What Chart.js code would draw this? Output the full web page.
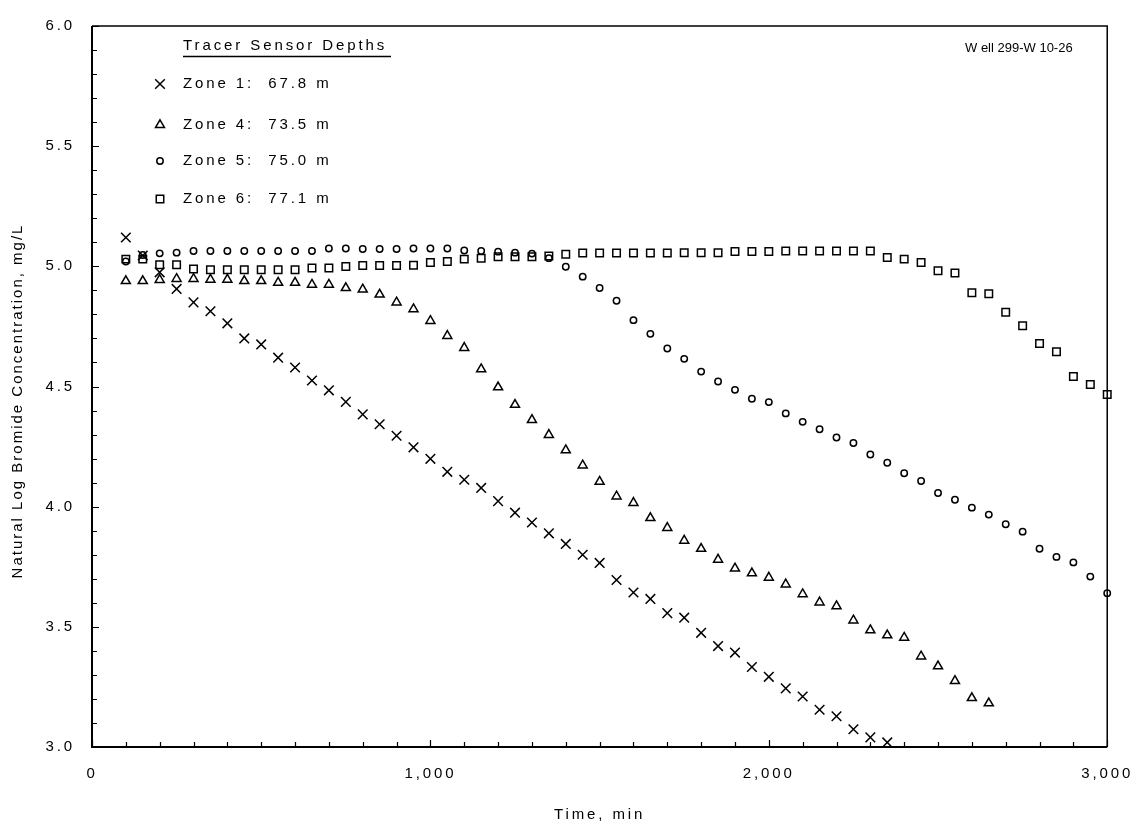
<!DOCTYPE html>
<html>
<head>
<meta charset="utf-8">
<title>Natural Log Bromide Concentration - Well 299-W10-26</title>
<script src="https://cdn.jsdelivr.net/npm/chart.js@4.4.1/dist/chart.umd.min.js"></script>
<style>
  body { margin: 0; background: #fff; }
</style>
</head>
<body>
<canvas id="tracerChart" width="1144" height="826"></canvas>
<script>
// Sampling times (min) - every reading was taken 50 min apart
const timeMin = [
  100, 150, 200, 250, 300, 350, 400, 450, 500, 550,
  600, 650, 700, 750, 800, 850, 900, 950, 1000, 1050,
  1100, 1150, 1200, 1250, 1300, 1350, 1400, 1450, 1500, 1550,
  1600, 1650, 1700, 1750, 1800, 1850, 1900, 1950, 2000, 2050,
  2100, 2150, 2200, 2250, 2300, 2350, 2400, 2450, 2500, 2550,
  2600, 2650, 2700, 2750, 2800, 2850, 2900, 2950, 3000
];

// ln(Br) mg/L
const zone1 = [
  5.12, 5.045, 4.975, 4.906, 4.85, 4.813, 4.763, 4.70, 4.675, 4.62,
  4.579, 4.525, 4.484, 4.436, 4.384, 4.343, 4.295, 4.247, 4.199, 4.145,
  4.112, 4.078, 4.023, 3.975, 3.934, 3.889, 3.845, 3.80, 3.766, 3.695,
  3.643, 3.616, 3.557, 3.538, 3.475, 3.42, 3.393, 3.333, 3.292, 3.244,
  3.21, 3.155, 3.128, 3.074, 3.04, 3.019
];
const zone4 = [
  4.939, 4.939, 4.944, 4.948, 4.948, 4.945, 4.945, 4.939, 4.939, 4.932,
  4.932, 4.924, 4.924, 4.91, 4.904, 4.883, 4.85, 4.822, 4.773, 4.711,
  4.661, 4.572, 4.497, 4.424, 4.361, 4.299, 4.235, 4.172, 4.104, 4.043,
  4.016, 3.953, 3.912, 3.859, 3.825, 3.78, 3.743, 3.723, 3.705, 3.677,
  3.636, 3.602, 3.586, 3.527, 3.486, 3.465, 3.455, 3.377, 3.336, 3.275,
  3.204, 3.182
];
const zone5 = [
  5.02, 5.047, 5.054, 5.057, 5.064, 5.064, 5.064, 5.064, 5.064, 5.064,
  5.064, 5.064, 5.074, 5.074, 5.072, 5.072, 5.072, 5.074, 5.074, 5.074,
  5.066, 5.064, 5.061, 5.057, 5.053, 5.034, 4.998, 4.957, 4.91, 4.857,
  4.776, 4.719, 4.658, 4.615, 4.562, 4.521, 4.486, 4.449, 4.435, 4.388,
  4.353, 4.322, 4.288, 4.265, 4.217, 4.183, 4.139, 4.107, 4.057, 4.029,
  3.996, 3.967, 3.927, 3.896, 3.825, 3.791, 3.768, 3.709, 3.64
];
const zone6 = [
  5.03, 5.03, 5.007, 5.007, 4.989, 4.986, 4.986, 4.986, 4.986, 4.986,
  4.986, 4.993, 4.993, 4.999, 5.003, 5.003, 5.003, 5.005, 5.016, 5.02,
  5.03, 5.034, 5.04, 5.04, 5.04, 5.043, 5.05, 5.055, 5.055, 5.055,
  5.055, 5.055, 5.055, 5.057, 5.057, 5.057, 5.062, 5.062, 5.062, 5.064,
  5.064, 5.064, 5.064, 5.064, 5.064, 5.037, 5.03, 5.016, 4.982, 4.972,
  4.89, 4.886, 4.809, 4.753, 4.679, 4.645, 4.542, 4.508, 4.467
];

const zoneLabels = ['Zone 1:  67.8 m', 'Zone 4:  73.5 m', 'Zone 5:  75.0 m', 'Zone 6:  77.1 m'];
const zoneValues = [zone1, zone4, zone5, zone6];
const zoneMarkers = [
  { style: 'crossRot', radius: 6.8 },
  { style: 'triangle', radius: 5.2 },
  { style: 'circle', radius: 3.2 },
  { style: 'rect', radius: 5.3 }
];

const yTicks = [3.0, 3.5, 4.0, 4.5, 5.0, 5.5, 6.0];
const xTicks = [0, 1000, 2000, 3000];

const FONT = "'Liberation Sans', Arial, sans-serif";

function toPoints(values) {
  return values.map((v, i) => ({ x: timeMin[i], y: v }));
}

// inward ticks, the box and the in-plot legend
const framePlugin = {
  id: 'frame',
  beforeDraw(chart) {
    chart.ctx.letterSpacing = '2.9px';
  },
  afterDraw(chart) {
    const { ctx, chartArea: a, scales: { x, y } } = chart;
    ctx.save();
    ctx.strokeStyle = '#000';

    // box
    ctx.lineWidth = 1.5;
    ctx.beginPath();
    ctx.moveTo(a.left, a.top);
    ctx.lineTo(a.right, a.top);
    ctx.lineTo(a.right, a.bottom);
    ctx.stroke();
    ctx.lineWidth = 2;
    ctx.beginPath();
    ctx.moveTo(a.left, a.top);
    ctx.lineTo(a.left, a.bottom);
    ctx.lineTo(a.right, a.bottom);
    ctx.stroke();

    // minor/major ticks pointing in
    ctx.lineWidth = 1.2;
    ctx.beginPath();
    for (let i = 0; i <= 30; i++) {
      const py = Math.round(y.getPixelForValue(3 + i / 10)) + 0.5;
      const len = i % 5 === 0 ? 7 : 5;
      ctx.moveTo(a.left, py);
      ctx.lineTo(a.left + len, py);
    }
    for (let i = 0; i <= 30; i++) {
      const px = Math.round(x.getPixelForValue(i * 100)) + 0.5;
      const len = i % 10 === 0 ? 7 : 5;
      ctx.moveTo(px, a.bottom);
      ctx.lineTo(px, a.bottom - len);
    }
    ctx.stroke();

    // y title
    ctx.fillStyle = '#000';
    ctx.font = '15px ' + FONT;
    ctx.letterSpacing = '2px';
    ctx.textAlign = 'center';
    ctx.textBaseline = 'middle';
    ctx.save();
    ctx.translate(18, 401);
    ctx.rotate(-Math.PI / 2);
    ctx.fillText('Natural Log Bromide Concentration, mg/L', 0, 0);
    ctx.restore();

    // legend
    ctx.letterSpacing = '2.9px';
    ctx.textAlign = 'left';
    ctx.fillText('Tracer Sensor Depths', 183, 46);
    ctx.lineWidth = 1.5;
    ctx.beginPath();
    ctx.moveTo(183, 56.5);
    ctx.lineTo(391, 56.5);
    ctx.stroke();

    const rows = [84, 125, 161, 199];
    chart.data.datasets.forEach((ds, i) => {
      ctx.fillStyle = 'rgba(0,0,0,0)';
      ctx.strokeStyle = '#000';
      ctx.lineWidth = 1.5;
      Chart.helpers.drawPoint(ctx, {
        pointStyle: ds.pointStyle,
        radius: ds.pointRadius,
        borderWidth: 1.5,
        rotation: 0
      }, 160, rows[i]);
      ctx.fillStyle = '#000';
      ctx.fillText(ds.label, 183, rows[i]);
    });

    ctx.font = '13px ' + FONT;
    ctx.letterSpacing = '0px';
    ctx.fillText('W ell 299-W 10-26', 965, 48);
    ctx.restore();
  }
};

const ctx = document.getElementById('tracerChart').getContext('2d');
const tracerChart = new Chart(ctx, {
  type: 'scatter',
  data: {
    datasets: zoneValues.map((vals, i) => ({
      label: zoneLabels[i],
      data: toPoints(vals),
      pointStyle: zoneMarkers[i].style,
      pointRadius: zoneMarkers[i].radius,
      pointHoverRadius: zoneMarkers[i].radius,
      pointBorderWidth: 1.5,
      pointBorderColor: '#000',
      pointBackgroundColor: 'rgba(0,0,0,0)',
      showLine: false,
      clip: false
    }))
  },
  options: {
    responsive: false,
    animation: false,
    layout: { padding: { top: 15, right: 29, bottom: 0, left: 0 } },
    plugins: {
      legend: { display: false },
      tooltip: { enabled: false }
    },
    scales: {
      x: {
        type: 'linear',
        min: 0,
        max: 3000,
        grid: { display: false, drawTicks: false },
        border: { display: false },
        afterBuildTicks(scale) {
          scale.ticks = xTicks.map(v => ({ value: v }));
        },
        afterFit(scale) { scale.height = 79; },
        ticks: {
          padding: 18,
          maxRotation: 0,
          autoSkip: false,
          color: '#000',
          font: { family: FONT, size: 15 },
          callback: v => v.toLocaleString('en-US')
        },
        title: {
          display: true,
          text: 'Time, min',
          color: '#000',
          font: { family: FONT, size: 15 },
          padding: { top: 0, bottom: 2 }
        }
      },
      y: {
        type: 'linear',
        min: 3,
        max: 6,
        grid: { display: false, drawTicks: false },
        border: { display: false },
        afterBuildTicks(scale) {
          scale.ticks = yTicks.map(v => ({ value: v }));
        },
        afterFit(scale) { scale.width = 92; },
        ticks: {
          padding: 17,
          autoSkip: false,
          color: '#000',
          font: { family: FONT, size: 15 },
          callback: v => v.toFixed(1)
        }
      }
    }
  },
  plugins: [framePlugin]
});
</script>
</body>
</html>
